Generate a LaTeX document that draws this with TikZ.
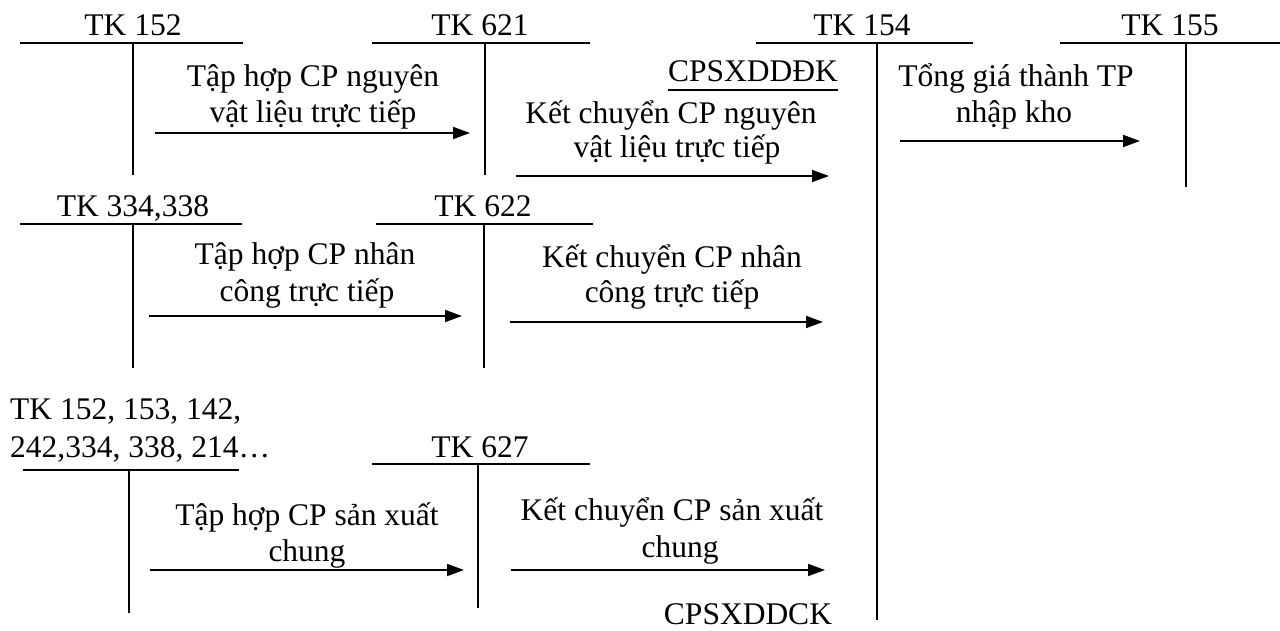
\documentclass[tikz,border=0pt]{standalone}
\usepackage{fontspec}
\setmainfont{Liberation Serif}
\usetikzlibrary{arrows.meta,calc}
\begin{document}
\begin{tikzpicture}[x=1pt,y=-1pt,
  lbl/.style={font=\fontsize{31.5}{44}\selectfont, inner sep=0pt, anchor=base},
  lbll/.style={lbl, anchor=base west},
  tline/.style={line width=1.6pt},
  arr/.style={line width=1.8pt,-{Triangle[length=17pt,width=12pt]}}]
\useasboundingbox (0,0) rectangle (1280,631);
% ---------- account headings ----------
\node[lbl] (h152) at (133,36) {TK 152};
\node[lbl] (h621) at (480,36) {TK 621};
\node[lbl] (h154) at (862,36) {TK 154};
\node[lbl] (h155) at (1170,36) {TK 155};
\node[lbl] (h334) at (133,217) {TK 334,338};
\node[lbl] (h622) at (483,217) {TK 622};
\node[lbll] (hmisc1) at (10,419) {TK 152, 153, 142,};
\node[lbll] (hmisc2) at (10,457) {242,334, 338, 214…};
\node[lbl] (h627) at (480,457) {TK 627};
% ---------- T accounts ----------
\draw[tline] (20,43) -- (243,43) (133,43) -- (133,175);
\draw[tline] (372,43) -- (590,43) (485,43) -- (485,175);
\draw[tline] (756,43) -- (973,43) (877,43) -- (877,620);
\draw[tline] (1060,43) -- (1280,43) (1186,43) -- (1186,187);
\draw[tline] (20,224) -- (242,224) (133,224) -- (133,368);
\draw[tline] (376,224) -- (593,224) (484,224) -- (484,368);
\draw[tline] (23,470) -- (239,470) (129,470) -- (129,613);
\draw[tline] (372,464) -- (590,464) (478,464) -- (478,608);
% ---------- row 1 ----------
\node[lbl] (l1a) at (313,87) {Tập hợp CP nguyên};
\node[lbl] (l1b) at (313,123) {vật liệu trực tiếp};
\coordinate (a1s) at (155,133); \coordinate (a1e) at (470,133);
\draw[arr] (a1s) -- (a1e);
\node[lbl] (cpdk) at (753,82) {CPSXDDĐK};
\draw[line width=1.6pt] ($(cpdk.base west)+(0,8)$) -- ($(cpdk.base east)+(0,8)$);
\node[lbl] (l2a) at (671,124) {Kết chuyển CP nguyên};
\node[lbl] (l2b) at (677,158) {vật liệu trực tiếp};
\coordinate (a2s) at (516,176); \coordinate (a2e) at (829,176);
\draw[arr] (a2s) -- (a2e);
\node[lbl] (l3a) at (1016,87) {Tổng giá thành TP};
\node[lbl] (l3b) at (1014,123) {nhập kho};
\coordinate (a3s) at (900,141); \coordinate (a3e) at (1140,141);
\draw[arr] (a3s) -- (a3e);
% ---------- row 2 ----------
\node[lbl] (l4a) at (305,265) {Tập hợp CP nhân};
\node[lbl] (l4b) at (307,301) {công trực tiếp};
\coordinate (a4s) at (149,316); \coordinate (a4e) at (462,316);
\draw[arr] (a4s) -- (a4e);
\node[lbl] (l5a) at (672,267) {Kết chuyển CP nhân};
\node[lbl] (l5b) at (672,302) {công trực tiếp};
\coordinate (a5s) at (510,322); \coordinate (a5e) at (823,322);
\draw[arr] (a5s) -- (a5e);
% ---------- row 3 ----------
\node[lbl] (l6a) at (307,525) {Tập hợp CP sản xuất};
\node[lbl] (l6b) at (307,561) {chung};
\coordinate (a6s) at (150,570); \coordinate (a6e) at (464,570);
\draw[arr] (a6s) -- (a6e);
\node[lbl] (l7a) at (672,520) {Kết chuyển CP sản xuất};
\node[lbl] (l7b) at (680,557) {chung};
\coordinate (a7s) at (511,570); \coordinate (a7e) at (825,570);
\draw[arr] (a7s) -- (a7e);
\node[lbl] (cpck) at (748,624) {CPSXDDCK};
\end{tikzpicture}
\end{document}
